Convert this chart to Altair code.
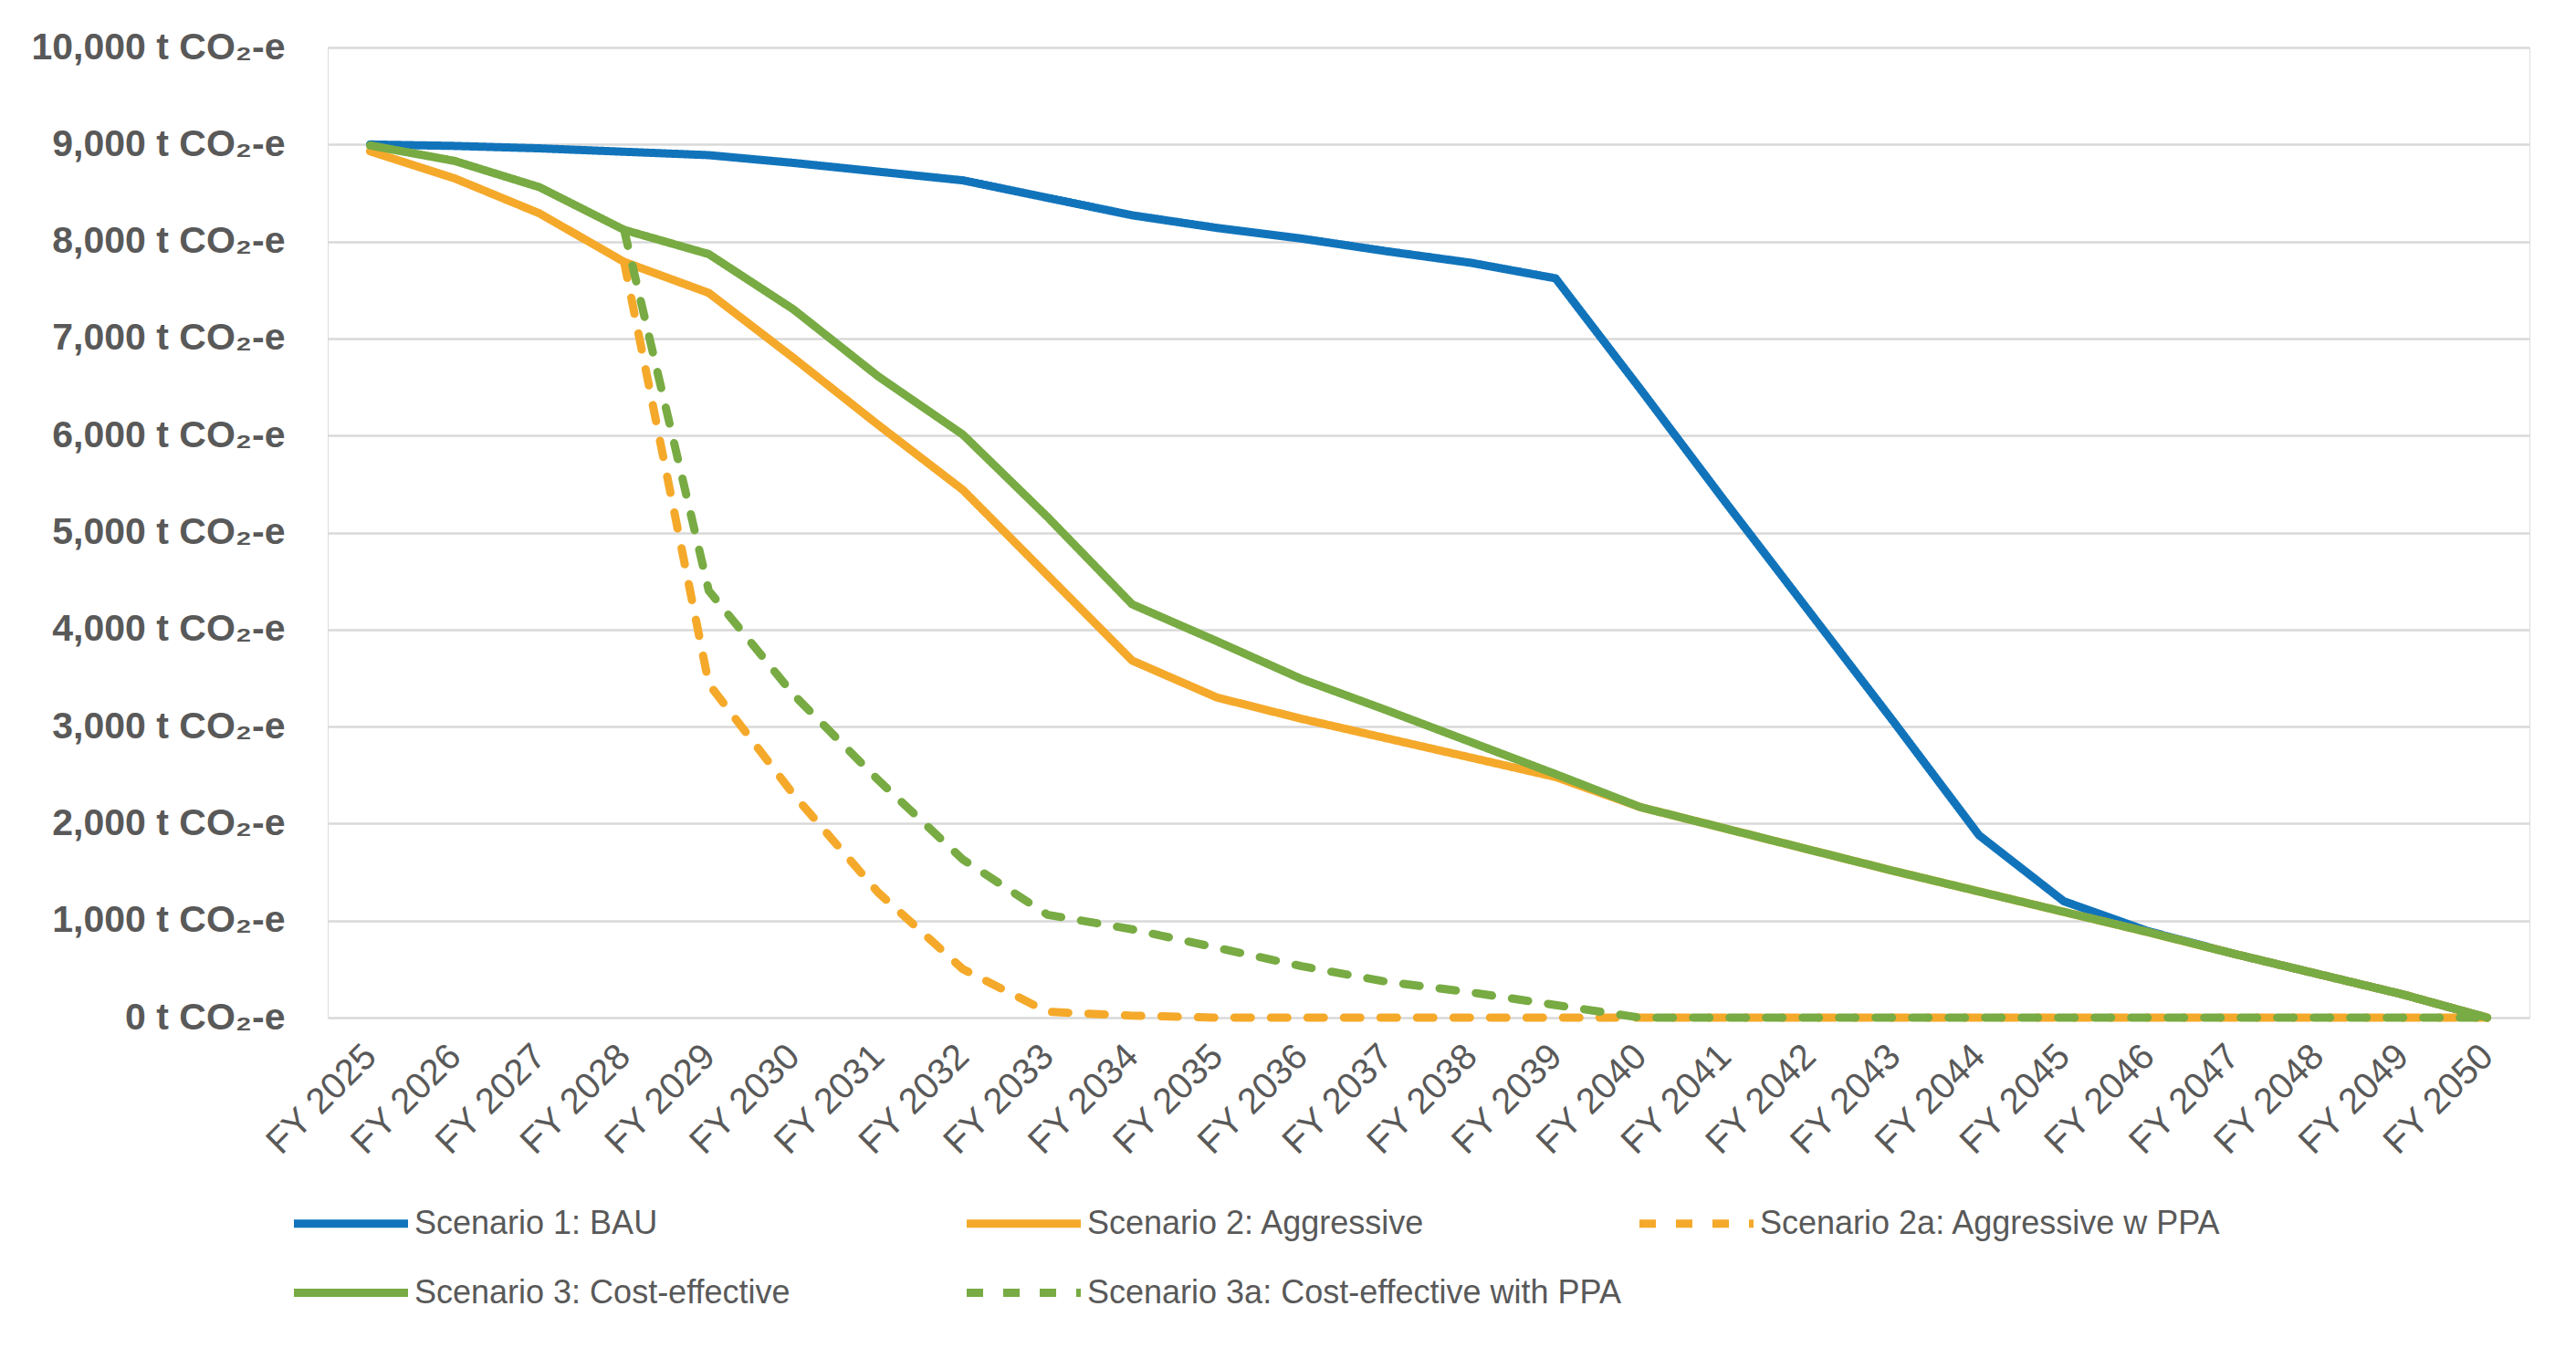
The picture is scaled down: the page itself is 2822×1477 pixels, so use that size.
import altair as alt
import pandas as pd

years = ["FY 2025", "FY 2026", "FY 2027", "FY 2028", "FY 2029", "FY 2030", "FY 2031",
         "FY 2032", "FY 2033", "FY 2034", "FY 2035", "FY 2036", "FY 2037", "FY 2038",
         "FY 2039", "FY 2040", "FY 2041", "FY 2042", "FY 2043", "FY 2044", "FY 2045",
         "FY 2046", "FY 2047", "FY 2048", "FY 2049", "FY 2050"]

series_names = ["Scenario 1: BAU", "Scenario 2: Aggressive", "Scenario 2a: Aggressive w PPA",
                "Scenario 3: Cost-effective", "Scenario 3a: Cost-effective with PPA"]

bau = [9000, 8985, 8960, 8925, 8890, 8810, 8720, 8630, 8450, 8270, 8140, 8030, 7900,
       7780, 7620, 6480, 5320, 4180, 3040, 1880, 1200, 890, 660, 450, 240, 0]
aggressive = [8930, 8650, 8290, 7790, 7470, 6800, 6110, 5440, 4560, 3680, 3300, 3080,
              2880, 2680, 2480, 2170, 1950, 1730, 1510, 1300, 1090, 880, 660, 450, 240, 0]
aggressive_ppa = [None, None, None, 7790, 3440, 2300, 1290, 500, 60, 20, 0, 0, 0, 0, 0,
                  0, 0, 0, 0, 0, 0, 0, 0, 0, 0, 0]
cost_effective = [8990, 8830, 8560, 8120, 7870, 7300, 6610, 6010, 5160, 4260, 3880, 3490,
                  3170, 2840, 2510, 2170, 1950, 1730, 1510, 1300, 1090, 880, 660, 450, 240, 0]
cost_effective_ppa = [None, None, None, 8120, 4400, 3330, 2450, 1630, 1060, 910, 720, 530,
                      370, 260, 130, 0, 0, 0, 0, 0, 0, 0, 0, 0, 0, 0]

colors = ["#1174BB", "#F5A92A", "#F5A92A", "#78AB43", "#78AB43"]
dashes = [[1, 0], [1, 0], [18, 22], [1, 0], [18, 22]]

rows = []
for name, vals in zip(series_names, [bau, aggressive, aggressive_ppa, cost_effective, cost_effective_ppa]):
    for y, v in zip(years, vals):
        if v is not None:
            rows.append({"year": y, "value": v, "series": name})
df = pd.DataFrame(rows)

FONT = "Liberation Sans, Arial, sans-serif"
GRAY = "#595959"

legend = alt.Legend(
    title=None, orient="none", legendX=-4, legendY=1259, direction="horizontal",
    columns=3, gridAlign="all", columnPadding=2, rowPadding=28,
    symbolType="M-2.5,0H2.5", symbolSize=2500, symbolStrokeWidth=9,
    labelFont=FONT, labelFontSize=36, labelColor=GRAY, labelOffset=40, labelLimit=2000,
    padding=0,
)

chart = alt.Chart(df).mark_line(strokeWidth=9, strokeCap="round", strokeJoin="round").encode(
    x=alt.X("year:N", sort=years, title=None,
            axis=alt.Axis(labelAngle=-45, labelAlign="right", labelBaseline="middle",
                          labelFont=FONT, labelFontSize=40, labelColor=GRAY,
                          labelPadding=36, ticks=False, domain=False, grid=False)),
    y=alt.Y("value:Q", title=None, scale=alt.Scale(domain=[0, 10000], nice=False),
            axis=alt.Axis(values=list(range(0, 10001, 1000)),
                          labelExpr="format(datum.value, ',') + ' t CO\u2082-e'",
                          labelFont=FONT, labelFontSize=41, labelFontWeight="bold",
                          labelColor=GRAY, labelPadding=47, labelLimit=1000,
                          ticks=False, domain=False,
                          gridColor="#D9D9D9", gridWidth=2.5)),
    color=alt.Color("series:N", scale=alt.Scale(domain=series_names, range=colors), legend=legend),
    strokeDash=alt.StrokeDash("series:N", scale=alt.Scale(domain=series_names, range=dashes), legend=legend),
    order=alt.Order("series:N"),
).properties(
    width=2412, height=1063,
    autosize=alt.AutoSizeParams(type="none"),
    padding={"left": 351, "top": 44, "right": 43, "bottom": 354},
).configure_view(stroke=None).configure(background="white")

chart.save("out.html", embed_options={"renderer": "svg", "actions": False})
